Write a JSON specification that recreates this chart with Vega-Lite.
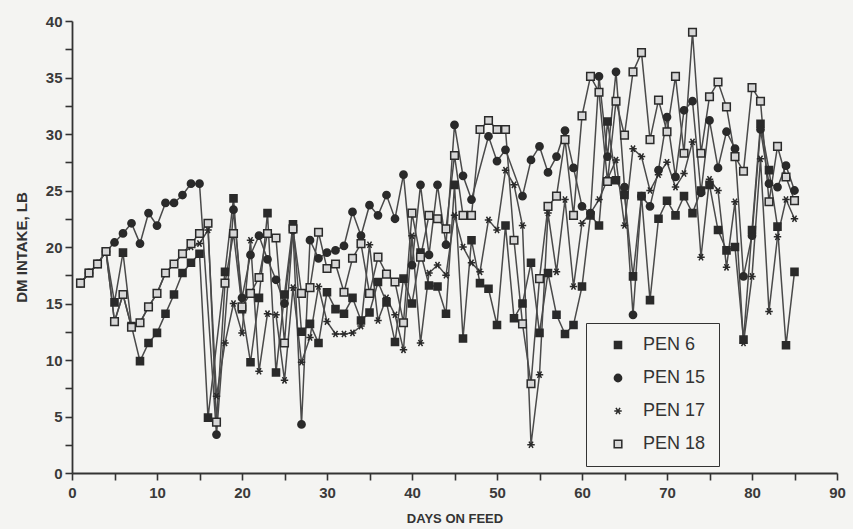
{
  "$schema": "https://vega.github.io/schema/vega-lite/v6.json",
  "width": 765,
  "height": 452,
  "autosize": {"type": "none"},
  "padding": {"left": 72, "top": 21, "right": 16, "bottom": 56},
  "background": "#f4f4f2",
  "config": {"view": {"stroke": null}, "font": "Liberation Sans"},
  "data": {"values": [
    {"d":1,"PEN 6":16.8,"PEN 15":16.8,"PEN 17":16.8,"PEN 18":16.8},
    {"d":2,"PEN 6":17.7,"PEN 15":17.7,"PEN 17":17.7,"PEN 18":17.7},
    {"d":3,"PEN 6":18.5,"PEN 15":18.5,"PEN 17":18.5,"PEN 18":18.5},
    {"d":4,"PEN 6":19.6,"PEN 15":19.6,"PEN 17":19.6,"PEN 18":19.6},
    {"d":5,"PEN 6":15.1,"PEN 15":20.4,"PEN 17":13.4,"PEN 18":13.4},
    {"d":6,"PEN 6":19.5,"PEN 15":21.2,"PEN 17":15.8,"PEN 18":15.8},
    {"d":7,"PEN 6":13.0,"PEN 15":22.1,"PEN 17":12.9,"PEN 18":12.9},
    {"d":8,"PEN 6":9.9,"PEN 15":20.3,"PEN 17":13.3,"PEN 18":13.3},
    {"d":9,"PEN 6":11.5,"PEN 15":23.0,"PEN 17":14.7,"PEN 18":14.7},
    {"d":10,"PEN 6":12.4,"PEN 15":21.9,"PEN 17":15.9,"PEN 18":15.9},
    {"d":11,"PEN 6":14.1,"PEN 15":23.9,"PEN 17":17.7,"PEN 18":17.7},
    {"d":12,"PEN 6":15.8,"PEN 15":23.9,"PEN 17":18.5,"PEN 18":18.5},
    {"d":13,"PEN 6":17.7,"PEN 15":24.6,"PEN 17":19.4,"PEN 18":19.4},
    {"d":14,"PEN 6":18.6,"PEN 15":25.6,"PEN 17":20.0,"PEN 18":20.3},
    {"d":15,"PEN 6":19.4,"PEN 15":25.6,"PEN 17":20.3,"PEN 18":21.2},
    {"d":16,"PEN 6":4.9,"PEN 15":null,"PEN 17":21.5,"PEN 18":22.1},
    {"d":17,"PEN 6":null,"PEN 15":3.4,"PEN 17":6.8,"PEN 18":4.5},
    {"d":18,"PEN 6":17.8,"PEN 15":null,"PEN 17":11.5,"PEN 18":16.8},
    {"d":19,"PEN 6":24.3,"PEN 15":23.3,"PEN 17":15.0,"PEN 18":21.2},
    {"d":20,"PEN 6":14.5,"PEN 15":15.5,"PEN 17":12.4,"PEN 18":14.7},
    {"d":21,"PEN 6":9.8,"PEN 15":19.3,"PEN 17":20.6,"PEN 18":15.9},
    {"d":22,"PEN 6":15.5,"PEN 15":21.0,"PEN 17":9.0,"PEN 18":17.3},
    {"d":23,"PEN 6":23.0,"PEN 15":18.9,"PEN 17":14.1,"PEN 18":21.2},
    {"d":24,"PEN 6":8.9,"PEN 15":17.1,"PEN 17":14.0,"PEN 18":20.8},
    {"d":25,"PEN 6":15.8,"PEN 15":15.0,"PEN 17":8.2,"PEN 18":11.5},
    {"d":26,"PEN 6":22.0,"PEN 15":21.5,"PEN 17":16.4,"PEN 18":21.6},
    {"d":27,"PEN 6":12.5,"PEN 15":4.3,"PEN 17":9.8,"PEN 18":15.9},
    {"d":28,"PEN 6":13.2,"PEN 15":20.6,"PEN 17":12.0,"PEN 18":16.4},
    {"d":29,"PEN 6":11.5,"PEN 15":19.0,"PEN 17":16.5,"PEN 18":21.3},
    {"d":30,"PEN 6":16.0,"PEN 15":19.5,"PEN 17":13.4,"PEN 18":18.1},
    {"d":31,"PEN 6":14.5,"PEN 15":19.7,"PEN 17":12.3,"PEN 18":18.5},
    {"d":32,"PEN 6":14.1,"PEN 15":20.1,"PEN 17":12.3,"PEN 18":16.0},
    {"d":33,"PEN 6":15.5,"PEN 15":23.1,"PEN 17":12.4,"PEN 18":19.0},
    {"d":34,"PEN 6":13.5,"PEN 15":21.0,"PEN 17":13.0,"PEN 18":20.3},
    {"d":35,"PEN 6":14.2,"PEN 15":23.7,"PEN 17":20.2,"PEN 18":15.9},
    {"d":36,"PEN 6":16.9,"PEN 15":22.8,"PEN 17":13.5,"PEN 18":19.1},
    {"d":37,"PEN 6":15.1,"PEN 15":24.6,"PEN 17":15.5,"PEN 18":17.6},
    {"d":38,"PEN 6":11.6,"PEN 15":22.5,"PEN 17":14.0,"PEN 18":16.9},
    {"d":39,"PEN 6":17.2,"PEN 15":26.4,"PEN 17":10.9,"PEN 18":13.3},
    {"d":40,"PEN 6":15.0,"PEN 15":18.4,"PEN 17":21.0,"PEN 18":23.0},
    {"d":41,"PEN 6":19.5,"PEN 15":25.5,"PEN 17":11.5,"PEN 18":19.1},
    {"d":42,"PEN 6":16.6,"PEN 15":19.3,"PEN 17":17.7,"PEN 18":22.8},
    {"d":43,"PEN 6":16.5,"PEN 15":25.5,"PEN 17":18.4,"PEN 18":22.5},
    {"d":44,"PEN 6":14.1,"PEN 15":20.2,"PEN 17":17.5,"PEN 18":21.6},
    {"d":45,"PEN 6":25.5,"PEN 15":30.8,"PEN 17":22.8,"PEN 18":28.1},
    {"d":46,"PEN 6":11.9,"PEN 15":26.3,"PEN 17":20.0,"PEN 18":22.8},
    {"d":47,"PEN 6":20.6,"PEN 15":24.2,"PEN 17":18.6,"PEN 18":22.8},
    {"d":48,"PEN 6":16.8,"PEN 15":null,"PEN 17":17.8,"PEN 18":30.4},
    {"d":49,"PEN 6":16.3,"PEN 15":29.8,"PEN 17":22.4,"PEN 18":31.2},
    {"d":50,"PEN 6":13.1,"PEN 15":27.6,"PEN 17":21.5,"PEN 18":30.4},
    {"d":51,"PEN 6":21.9,"PEN 15":28.6,"PEN 17":26.8,"PEN 18":30.4},
    {"d":52,"PEN 6":13.7,"PEN 15":null,"PEN 17":25.5,"PEN 18":20.6},
    {"d":53,"PEN 6":15.0,"PEN 15":24.5,"PEN 17":21.9,"PEN 18":13.2},
    {"d":54,"PEN 6":18.6,"PEN 15":27.7,"PEN 17":2.5,"PEN 18":7.9},
    {"d":55,"PEN 6":12.4,"PEN 15":28.9,"PEN 17":8.7,"PEN 18":17.2},
    {"d":56,"PEN 6":17.7,"PEN 15":26.6,"PEN 17":23.0,"PEN 18":23.6},
    {"d":57,"PEN 6":14.0,"PEN 15":28.0,"PEN 17":17.8,"PEN 18":24.5},
    {"d":58,"PEN 6":12.3,"PEN 15":30.3,"PEN 17":24.2,"PEN 18":29.5},
    {"d":59,"PEN 6":13.1,"PEN 15":27.0,"PEN 17":16.5,"PEN 18":22.8},
    {"d":60,"PEN 6":16.5,"PEN 15":23.6,"PEN 17":22.1,"PEN 18":31.6},
    {"d":61,"PEN 6":22.8,"PEN 15":23.0,"PEN 17":23.0,"PEN 18":35.1},
    {"d":62,"PEN 6":21.9,"PEN 15":35.1,"PEN 17":24.2,"PEN 18":33.7},
    {"d":63,"PEN 6":31.1,"PEN 15":28.0,"PEN 17":26.0,"PEN 18":25.8},
    {"d":64,"PEN 6":25.9,"PEN 15":35.5,"PEN 17":27.7,"PEN 18":32.9},
    {"d":65,"PEN 6":24.6,"PEN 15":25.3,"PEN 17":21.9,"PEN 18":29.9},
    {"d":66,"PEN 6":17.4,"PEN 15":14.0,"PEN 17":28.7,"PEN 18":35.5},
    {"d":67,"PEN 6":24.5,"PEN 15":24.5,"PEN 17":28.0,"PEN 18":37.2},
    {"d":68,"PEN 6":15.3,"PEN 15":23.6,"PEN 17":25.0,"PEN 18":29.5},
    {"d":69,"PEN 6":22.5,"PEN 15":26.8,"PEN 17":26.4,"PEN 18":33.0},
    {"d":70,"PEN 6":24.1,"PEN 15":31.5,"PEN 17":27.5,"PEN 18":30.2},
    {"d":71,"PEN 6":22.8,"PEN 15":26.2,"PEN 17":25.3,"PEN 18":35.1},
    {"d":72,"PEN 6":24.5,"PEN 15":32.1,"PEN 17":26.5,"PEN 18":28.3},
    {"d":73,"PEN 6":23.0,"PEN 15":32.9,"PEN 17":29.3,"PEN 18":39.0},
    {"d":74,"PEN 6":25.0,"PEN 15":24.8,"PEN 17":19.1,"PEN 18":28.3},
    {"d":75,"PEN 6":25.5,"PEN 15":31.2,"PEN 17":26.0,"PEN 18":33.3},
    {"d":76,"PEN 6":21.5,"PEN 15":27.0,"PEN 17":25.0,"PEN 18":34.6},
    {"d":77,"PEN 6":19.7,"PEN 15":30.2,"PEN 17":18.2,"PEN 18":32.4},
    {"d":78,"PEN 6":20.0,"PEN 15":28.7,"PEN 17":24.0,"PEN 18":28.0},
    {"d":79,"PEN 6":11.8,"PEN 15":17.4,"PEN 17":11.5,"PEN 18":26.7},
    {"d":80,"PEN 6":21.5,"PEN 15":21.0,"PEN 17":17.4,"PEN 18":34.1},
    {"d":81,"PEN 6":30.9,"PEN 15":30.4,"PEN 17":27.8,"PEN 18":32.9},
    {"d":82,"PEN 6":26.8,"PEN 15":25.6,"PEN 17":14.3,"PEN 18":24.0},
    {"d":83,"PEN 6":21.8,"PEN 15":25.3,"PEN 17":20.9,"PEN 18":28.9},
    {"d":84,"PEN 6":11.3,"PEN 15":27.2,"PEN 17":24.2,"PEN 18":26.2},
    {"d":85,"PEN 6":17.8,"PEN 15":25.0,"PEN 17":22.5,"PEN 18":24.1}
  ]},
  "transform": [
    {"fold": ["PEN 6", "PEN 15", "PEN 17", "PEN 18"], "as": ["pen", "v"]},
    {"filter": "isValid(datum.v)"}
  ],
  "encoding": {
    "x": {
      "field": "d", "type": "quantitative",
      "scale": {"domain": [0, 90], "nice": false, "zero": false},
      "axis": {
        "values": [0,5,10,15,20,25,30,35,40,45,50,55,60,65,70,75,80,85,90],
        "labelExpr": "datum.value % 10 === 0 ? datum.label : ''",
        "labelOverlap": false, "labelFlush": false,
        "title": "DAYS ON FEED", "grid": false,
        "tickSize": 7, "tickWidth": 1.6, "tickColor": "#333",
        "domainColor": "#333", "domainWidth": 1.8,
        "labelFontSize": 15, "labelFontWeight": "bold", "labelColor": "#3a3a3a", "labelPadding": 5,
        "titleFontSize": 13, "titleFontWeight": "bold", "titleColor": "#333", "titlePadding": 12
      }
    },
    "y": {
      "field": "v", "type": "quantitative",
      "scale": {"domain": [0, 40], "nice": false},
      "axis": {
        "values": [0,2.5,5,7.5,10,12.5,15,17.5,20,22.5,25,27.5,30,32.5,35,37.5,40],
        "labelExpr": "datum.value % 5 === 0 ? datum.label : ''",
        "labelOverlap": false, "labelFlush": false,
        "title": "DM INTAKE, LB", "grid": false,
        "tickSize": 7, "tickWidth": 1.6, "tickColor": "#333",
        "domainColor": "#333", "domainWidth": 1.8,
        "labelFontSize": 15, "labelFontWeight": "bold", "labelColor": "#3a3a3a", "labelPadding": 3,
        "titleFontSize": 15, "titleFontWeight": "bold", "titleColor": "#333", "titlePadding": 16
      }
    }
  },
  "layer": [
    {
      "mark": {"type": "line", "stroke": "#4a4a4a", "strokeWidth": 1.5},
      "encoding": {"detail": {"field": "pen"}, "order": {"field": "d"}}
    },
    {
      "mark": {"type": "point", "filled": true, "opacity": 1},
      "encoding": {
        "stroke": {"value": "#2a2a2a"},
        "strokeWidth": {"value": 1.5},
        "shape": {
          "field": "pen", "type": "nominal",
          "scale": {"domain": ["PEN 6", "PEN 15", "PEN 17", "PEN 18"],
                    "range": ["square", "circle", "M-1,0H1M-0.55,-0.85L0.55,0.85M-0.55,0.85L0.55,-0.85", "square"]},
          "legend": {"title": null, "orient": "none", "legendX": 514, "legendY": 302,
                     "strokeColor": "#333", "fillColor": "#f4f4f2", "padding": 13,
                     "labelFontSize": 18, "labelColor": "#333", "labelFont": "Liberation Sans",
                     "rowPadding": 15, "symbolOffset": 10, "labelOffset": 16,
                     "encode": {"symbols": {"update": {"stroke": {"value": "#2a2a2a"}, "strokeWidth": {"value": 1.5}}}}}
        },
        "fill": {
          "field": "pen", "type": "nominal",
          "scale": {"domain": ["PEN 6", "PEN 15", "PEN 17", "PEN 18"],
                    "range": ["#2a2a2a", "#2a2a2a", "#2a2a2a", "#d6d6d6"]},
          "legend": {"title": null, "orient": "none", "legendX": 514, "legendY": 302,
                     "strokeColor": "#333", "fillColor": "#f4f4f2", "padding": 13,
                     "labelFontSize": 18, "labelColor": "#333", "labelFont": "Liberation Sans",
                     "rowPadding": 15, "symbolOffset": 10, "labelOffset": 16,
                     "encode": {"symbols": {"update": {"stroke": {"value": "#2a2a2a"}, "strokeWidth": {"value": 1.5}}}}}
        },
        "size": {
          "field": "pen", "type": "nominal",
          "scale": {"domain": ["PEN 6", "PEN 15", "PEN 17", "PEN 18"],
                    "range": [50, 58, 80, 60]},
          "legend": {"title": null, "orient": "none", "legendX": 514, "legendY": 302,
                     "strokeColor": "#333", "fillColor": "#f4f4f2", "padding": 13,
                     "labelFontSize": 18, "labelColor": "#333", "labelFont": "Liberation Sans",
                     "rowPadding": 15, "symbolOffset": 10, "labelOffset": 16,
                     "encode": {"symbols": {"update": {"stroke": {"value": "#2a2a2a"}, "strokeWidth": {"value": 1.5}}}}}
        }
      }
    }
  ]
}
